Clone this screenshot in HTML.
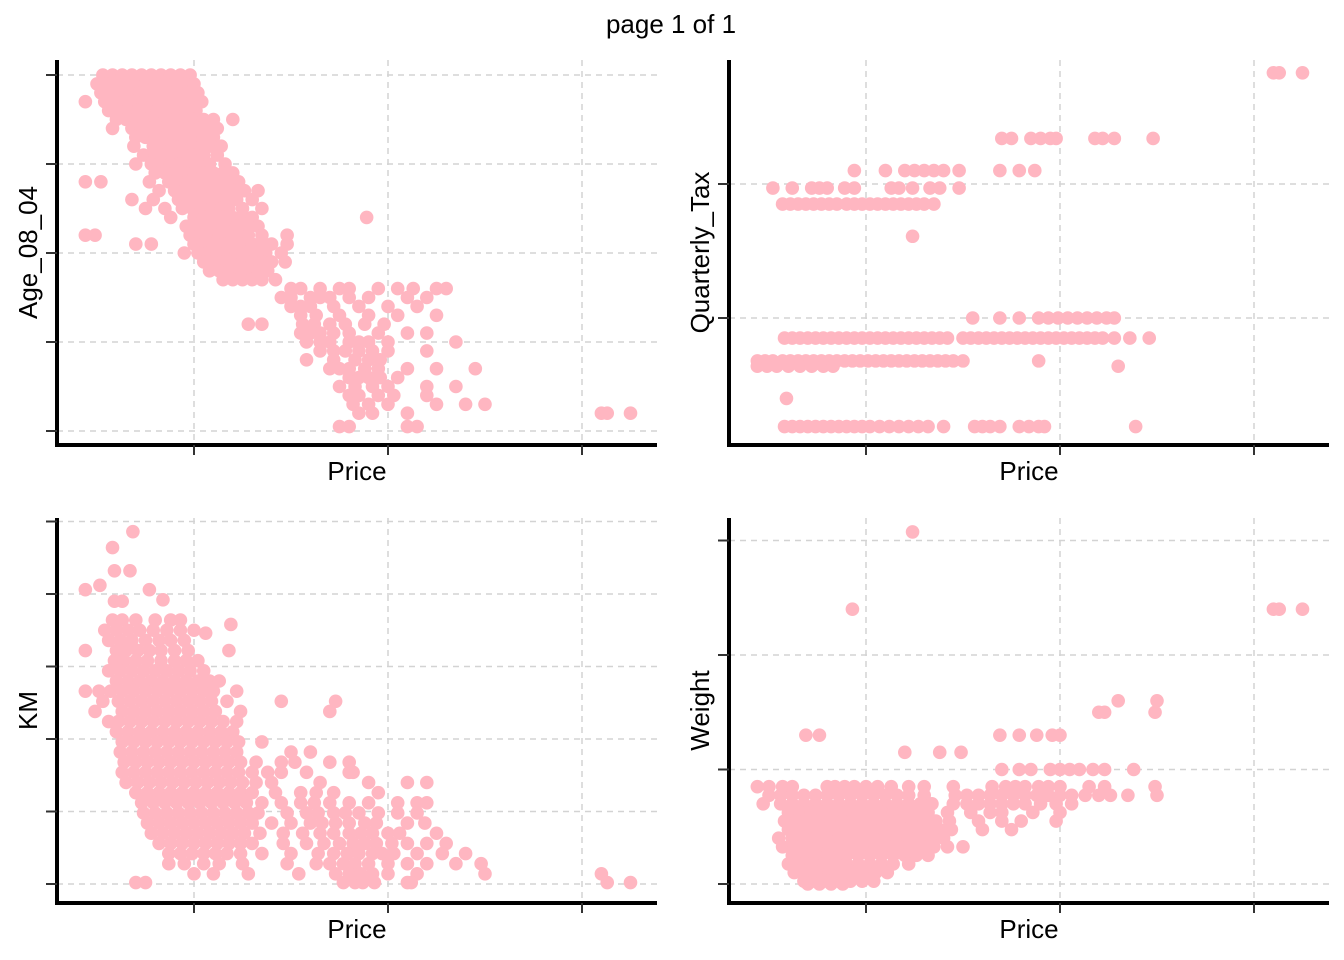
<!DOCTYPE html>
<html><head><meta charset="utf-8"><style>
body{margin:0;background:#fff;width:1344px;height:960px;overflow:hidden}
svg{display:block;font-family:"Liberation Sans",Arial,sans-serif}
</style></head><body>
<svg id="chart" width="1344" height="960">
<text x="671" y="33" text-anchor="middle" font-size="26">page 1 of 1</text>
</svg>
<script>
// Age_08_04 vs Price rows: [age, [prices]]
const ageRows = [
[80,[5300,5800,6300,6800,7300,7800,8300,8800,9300,9800]],
[78,[5000,5500,6000,6500,7000,7500,8000,8500,9000,9500,10000]],
[76,[5200,5700,6200,6700,7200,7700,8200,8700,9200,9700,10200]],
[74,[4400,5400,5900,6400,6900,7400,7900,8400,8900,9400,9900,10400]],
[72,[5600,6100,6600,7100,7600,8100,8600,9100,9600,10100]],
[70,[6000,6500,7000,7500,8000,8500,9000,9500,10000,10500,11000,12000]],
[68,[5800,6800,7300,7800,8300,8800,9300,9800,10300,10800,11200]],
[66,[7000,7500,8000,8500,9000,9500,10000,10500,11000]],
[64,[6900,7900,8400,8900,9400,9900,10400,10900,11400]],
[62,[7400,8000,8500,9000,9500,10000,10500,11200]],
[60,[7000,7800,8300,8800,9300,9800,10300,10800,11600]],
[58,[8000,8500,9000,9500,10000,10500,11000,11500,12000]],
[56,[4400,5200,7700,8700,9200,9700,10200,10700,11200,11700,12300]],
[54,[8200,9000,9500,10000,10500,11000,11500,12000,12600,13300]],
[52,[6800,7900,9200,9700,10200,10700,11200,11700,12200,13000]],
[50,[7500,8500,9400,9900,10400,10900,11400,11800,12500,13500]],
[48,[8800,10000,10500,11000,11500,12000,12500,13000,18900]],
[46,[9600,10200,10700,11200,11700,12200,12800,13300]],
[44,[4400,4900,9800,10300,10800,11300,11800,12300,12800,13500,14800]],
[42,[7000,7800,10000,10500,11000,11500,12000,12500,13000,13500,14000,14800]],
[40,[9500,10200,10700,11200,11700,12200,12700,13200,13700,14500]],
[38,[10500,11000,11500,12000,12500,13000,13500,14000,14700]],
[36,[10800,11300,11800,12300,12800,13300,13800]],
[34,[11500,12000,12500,13000,13500,14200]],
[32,[15000,15500,16500,17500,18000,19500,20500,21300,22500,23000]],
[30,[14500,15000,16000,16500,17000,18000,19000,21000,22000]],
[28,[15000,15500,16000,17200,18500,20000,21500]],
[26,[15500,16300,17500,19000,20500,22500]],
[24,[12800,13500,15600,16200,17000,17800,18800,19800]],
[22,[15500,16000,16500,17200,18000,19500,21000,22000]],
[20,[15800,16500,17000,18000,18500,19000,20000,23500]],
[18,[16500,17200,17800,18500,19200,20000,22000]],
[16,[15800,17200,18300,19000,19600]],
[14,[17000,17500,18000,18800,19500,21000,22500,24500]],
[12,[18000,18500,19000,19600,20500]],
[10,[17500,18300,19200,20000,22000,23500]],
[8,[18000,18500,19500,20300,22000]],
[6,[18200,19000,20000,22500,24000,25000]],
[4,[18500,19200,21000,31000,31300,32500]],
[1,[17500,18000,21000,21500]]
];
// Quarterly_Tax vs Price rows
const taxRows = [
[283,[31000,31300,32500]],
[234,[17000,17500,18500,19000,19500,19800,21800,22200,22800,24800]],
[210,[9400,11000,12000,12500,13000,13500,14000,14800,16900,17900,18700]],
[197,[5200,6200,7200,7600,8000,8900,9400,11300,11700,12400,13300,13800,14800]],
[185,[5700,6100,6500,6900,7300,7700,8100,8500,9000,9400,9800,10200,10600,11000,11400,11800,12200,12600,13000,13500]],
[161,[12400]],
[100,[15500,16900,17900,18900,19400,19900,20400,20900,21400,21900,22400,22800]],
[85,[5800,6200,6600,7000,7400,7800,8200,8600,9000,9400,9800,10200,10600,11000,11400,11800,12200,12600,13000,13400,13800,14200,15000,15400,15800,16200,16600,17000,17400,17800,18200,18600,19000,19400,19800,20200,20600,21000,21400,21800,22200,22800,23600,24600]],
[68,[4400,4800,5200,5700,6100,6500,6900,7300,7700,8100,8500,8900,9300,9700,10100,10500,10900,11300,11700,12100,12500,12900,13300,13700,14100,14500,15000,18900]],
[64,[4400,4900,5400,6000,6600,7200,7800,8300,23000]],
[40,[5900]],
[19,[5800,6200,6600,7000,7400,7800,8200,8600,9000,9400,9800,10200,10700,11200,11700,12200,12700,13200,14000,15600,16000,16400,16900,17900,18400,18900,19200,23900]]
];
// KM vs Price rows: [km thousands, [prices]]
const kmRows = [
[243,[6850]],[232,[5800]],[216,[5900,6700]],[206,[5150]],[203,[4400,7700]],[196,[8400]],[195,[5900,6300]],
[182,[5800,6300,7000,8000,8800,9300]],
[179,[11900]],[173,[10600]],
[175,[5400,6000,6600,7200,7900,8600,9300,10000]],
[168,[5600,6200,6800,7500,8200,8800,9500]],
[161,[4400,6000,6500,7100,7700,8300,9000,9700,11800]],
[154,[5900,6400,7000,7600,8300,9000,9600,10200]],
[147,[5600,6200,6800,7400,8000,8600,9200,9800,10500]],
[140,[6000,6600,7200,7800,8400,9000,9600,10200,10800,11300]],
[133,[4400,5100,5700,6300,6900,7500,8100,8700,9300,9900,10500,11000,12200]],
[126,[5300,6100,6700,7300,7900,8500,9100,9700,10300,10900,11700,14500,17300]],
[119,[4900,6300,6900,7500,8100,8700,9300,9900,10500,11100,12400,17000]],
[112,[5600,6100,6700,7300,7900,8500,9100,9700,10300,10900,11500,12200]],
[105,[6000,6600,7200,7800,8400,9000,9600,10200,10800,11400,12000]],
[98,[6300,6900,7500,8100,8700,9300,9900,10500,11100,11700,12300,13500]],
[91,[6200,6800,7400,8000,8600,9200,9800,10400,11000,11600,12200,15000,16000]],
[84,[6400,7000,7600,8200,8800,9400,10000,10600,11200,11800,12400,13200,14500,15200,17000,18000]],
[77,[6300,6900,7500,8100,8700,9300,9900,10500,11100,11700,12300,13000,13800,14500,15800,18000,18200]],
[70,[6500,7100,7700,8300,8900,9500,10100,10700,11300,11900,12500,13200,14000,16500,19000,21000,22000]],
[63,[7000,7600,8200,8800,9400,10000,10600,11200,11800,12400,13000,14200,15500,16300,17200,19500]],
[56,[7300,7900,8500,9100,9700,10300,10900,11500,12100,12700,13500,14500,15500,16200,17000,18000,19000,20500,21500,22000]],
[49,[7400,8000,8600,9200,9800,10400,11000,11600,12200,12800,13300,14800,15800,16400,17200,17800,18500,19500,20500,21500]],
[42,[7600,8200,8800,9400,10000,10600,11200,11800,12400,13000,14000,15000,16000,16600,17300,18000,18800,19400,21000,21900]],
[35,[7800,8400,9000,9600,10200,10800,11400,12000,12600,13400,14600,15600,16500,17200,18000,18600,19200,20000,20600,22500]],
[28,[8200,8800,9400,10000,10600,11200,11800,12400,13000,14600,15800,16700,17500,18200,18800,19400,20200,21000,22000,23000]],
[21,[8700,9300,9900,10500,11100,11700,12400,13500,15000,16400,17200,17900,18500,19200,19700,20300,21500,22800,24000]],
[14,[8700,9500,10500,11300,12500,14800,16300,17000,17700,18300,19000,20000,21000,22000,23500,24800]],
[7,[10000,11000,12800,15400,17300,18000,18600,19200,20000,21500,25000,31000]],
[1,[7000,7500,17700,18300,18700,19300,21000,21200,31300,32500]]
];
// Weight vs Price rows
const weightRows = [
[1615,[12400]],
[1480,[9300,31000,31300,32500]],
[1320,[23000,25000]],
[1300,[22000,22300,24900]],
[1260,[6900,7600,16900,17900,18800,19600,20000]],
[1230,[12000,13800,14900]],
[1200,[17000,17900,18500,19500,20000,20500,21000,21700,22300,23800]],
[1170,[4400,5000,5700,6200,8000,8400,8900,9400,10000,10600,11300,12200,13000,14500,16500,17200,17700,18200,18900,19400,20000,21500,22300,24900]],
[1155,[5000,5600,6200,6800,7400,8000,8600,9200,9800,10400,11000,11600,12200,13000,14600,15200,15800,16400,17000,17600,18200,18800,19400,20000,20600,21300,22000,22600,23500,25000]],
[1140,[4700,5600,6200,6800,7400,8000,8600,9200,9800,10400,11000,11600,12200,12800,13400,14500,15200,15800,16400,17000,17600,18200,19000,19800,20600]],
[1125,[6000,6600,7200,7800,8400,9000,9600,10200,10800,11400,12000,12600,13200,14200,15400,16400,17000,18600,20000]],
[1110,[5800,6400,7000,7600,8200,8800,9400,10000,10600,11200,11800,12400,13000,13600,14300,15800,17000,18000,19800]],
[1095,[6000,6600,7200,7800,8400,9000,9600,10200,10800,11400,12000,12600,13200,13800,14400,16000,17500]],
[1080,[5500,6200,6800,7400,8000,8600,9200,9800,10400,11000,11600,12200,12800,13400,14000]],
[1065,[5700,6300,6900,7500,8100,8700,9300,9900,10500,11100,11700,12300,12900,13500,14200,15000]],
[1050,[6200,6800,7400,8000,8600,9000,9600,10200,10800,11400,12000,12600,13200]],
[1035,[6000,6600,7200,7800,8400,9000,9600,10200,10800,11400,12200]],
[1020,[6300,6900,7500,8100,8700,9300,9900,10500,11100]],
[1005,[6800,7400,8000,8600,9200,9800,10400]],
[1000,[7000,7600,8200,8800]]
];
const priceTicks = [10000,20000,30000];
const ageTicks = [0,20,40,60,80];
const taxTicks = [100,200];
const kmTicks = [0,50,100,150,200,250];
const weightTicks = [1000,1200,1400,1600];

const NS='http://www.w3.org/2000/svg';
const svg=document.getElementById('chart');
function mk(tag,attrs,parent){const e=document.createElementNS(NS,tag);for(const k in attrs)e.setAttribute(k,attrs[k]);(parent||svg).appendChild(e);return e;}

function panel(name,ox,axisY,topY,yLabel,rows,yTicks,yScale){
  const g=mk('g',{});
  
  
  const xs=p=>ox+194+(p-10000)*0.0194;
  const right=ox+657;
  priceTicks.forEach(t=>{const l=mk('line',{x1:xs(t),x2:xs(t),y1:topY,y2:axisY,stroke:'#d3d3d3','stroke-width':1.5,'stroke-dasharray':'6,5'},g);
    
    });
  yTicks.forEach(t=>{const l=mk('line',{x1:ox+57,x2:right,y1:yScale(t),y2:yScale(t),stroke:'#d3d3d3','stroke-width':1.5,'stroke-dasharray':'6,5'},g);
    
    });
  const pg=mk('g',{fill:'#FFB6C1'},g);
  
  
  rows.forEach(r=>{r[1].forEach(p=>{const c=mk('circle',{cx:xs(p),cy:yScale(r[0]),r:6.8},pg);
    
    });});
  const ya=mk('line',{x1:ox+57,x2:ox+57,y1:topY,y2:axisY+2,stroke:'#000','stroke-width':4},g);
  
  
  const xa=mk('line',{x1:ox+55,x2:right,y1:axisY,y2:axisY,stroke:'#000','stroke-width':4},g);
  
  
  priceTicks.forEach(t=>{const l=mk('line',{x1:xs(t),x2:xs(t),y1:axisY,y2:axisY+10,stroke:'#333','stroke-width':2},g);
    
    });
  yTicks.forEach(t=>{const l=mk('line',{x1:ox+46,x2:ox+57,y1:yScale(t),y2:yScale(t),stroke:'#333','stroke-width':2},g);
    
    });
  const xt=mk('text',{x:ox+357,y:axisY+35,'text-anchor':'middle','font-size':26},g);
  xt.textContent='Price';
  
  
  const cy=(topY+axisY)/2;
  const yt=mk('text',{x:0,y:0,'text-anchor':'middle','font-size':26,transform:'translate('+(ox+37)+','+cy+') rotate(-90)'},g);
  yt.textContent=yLabel;
  
  
}
panel('age',0,445,60,'Age_08_04',ageRows,ageTicks,a=>431-a*4.45);
panel('quarterly-tax',672,445,60,'Quarterly_Tax',taxRows,taxTicks,t=>318-(t-100)*1.34);
panel('km',0,903,518,'KM',kmRows,kmTicks,k=>884-k*1.45);
panel('weight',672,903,518,'Weight',weightRows,weightTicks,w=>884-(w-1000)*0.5725);
</script>
</body></html>
